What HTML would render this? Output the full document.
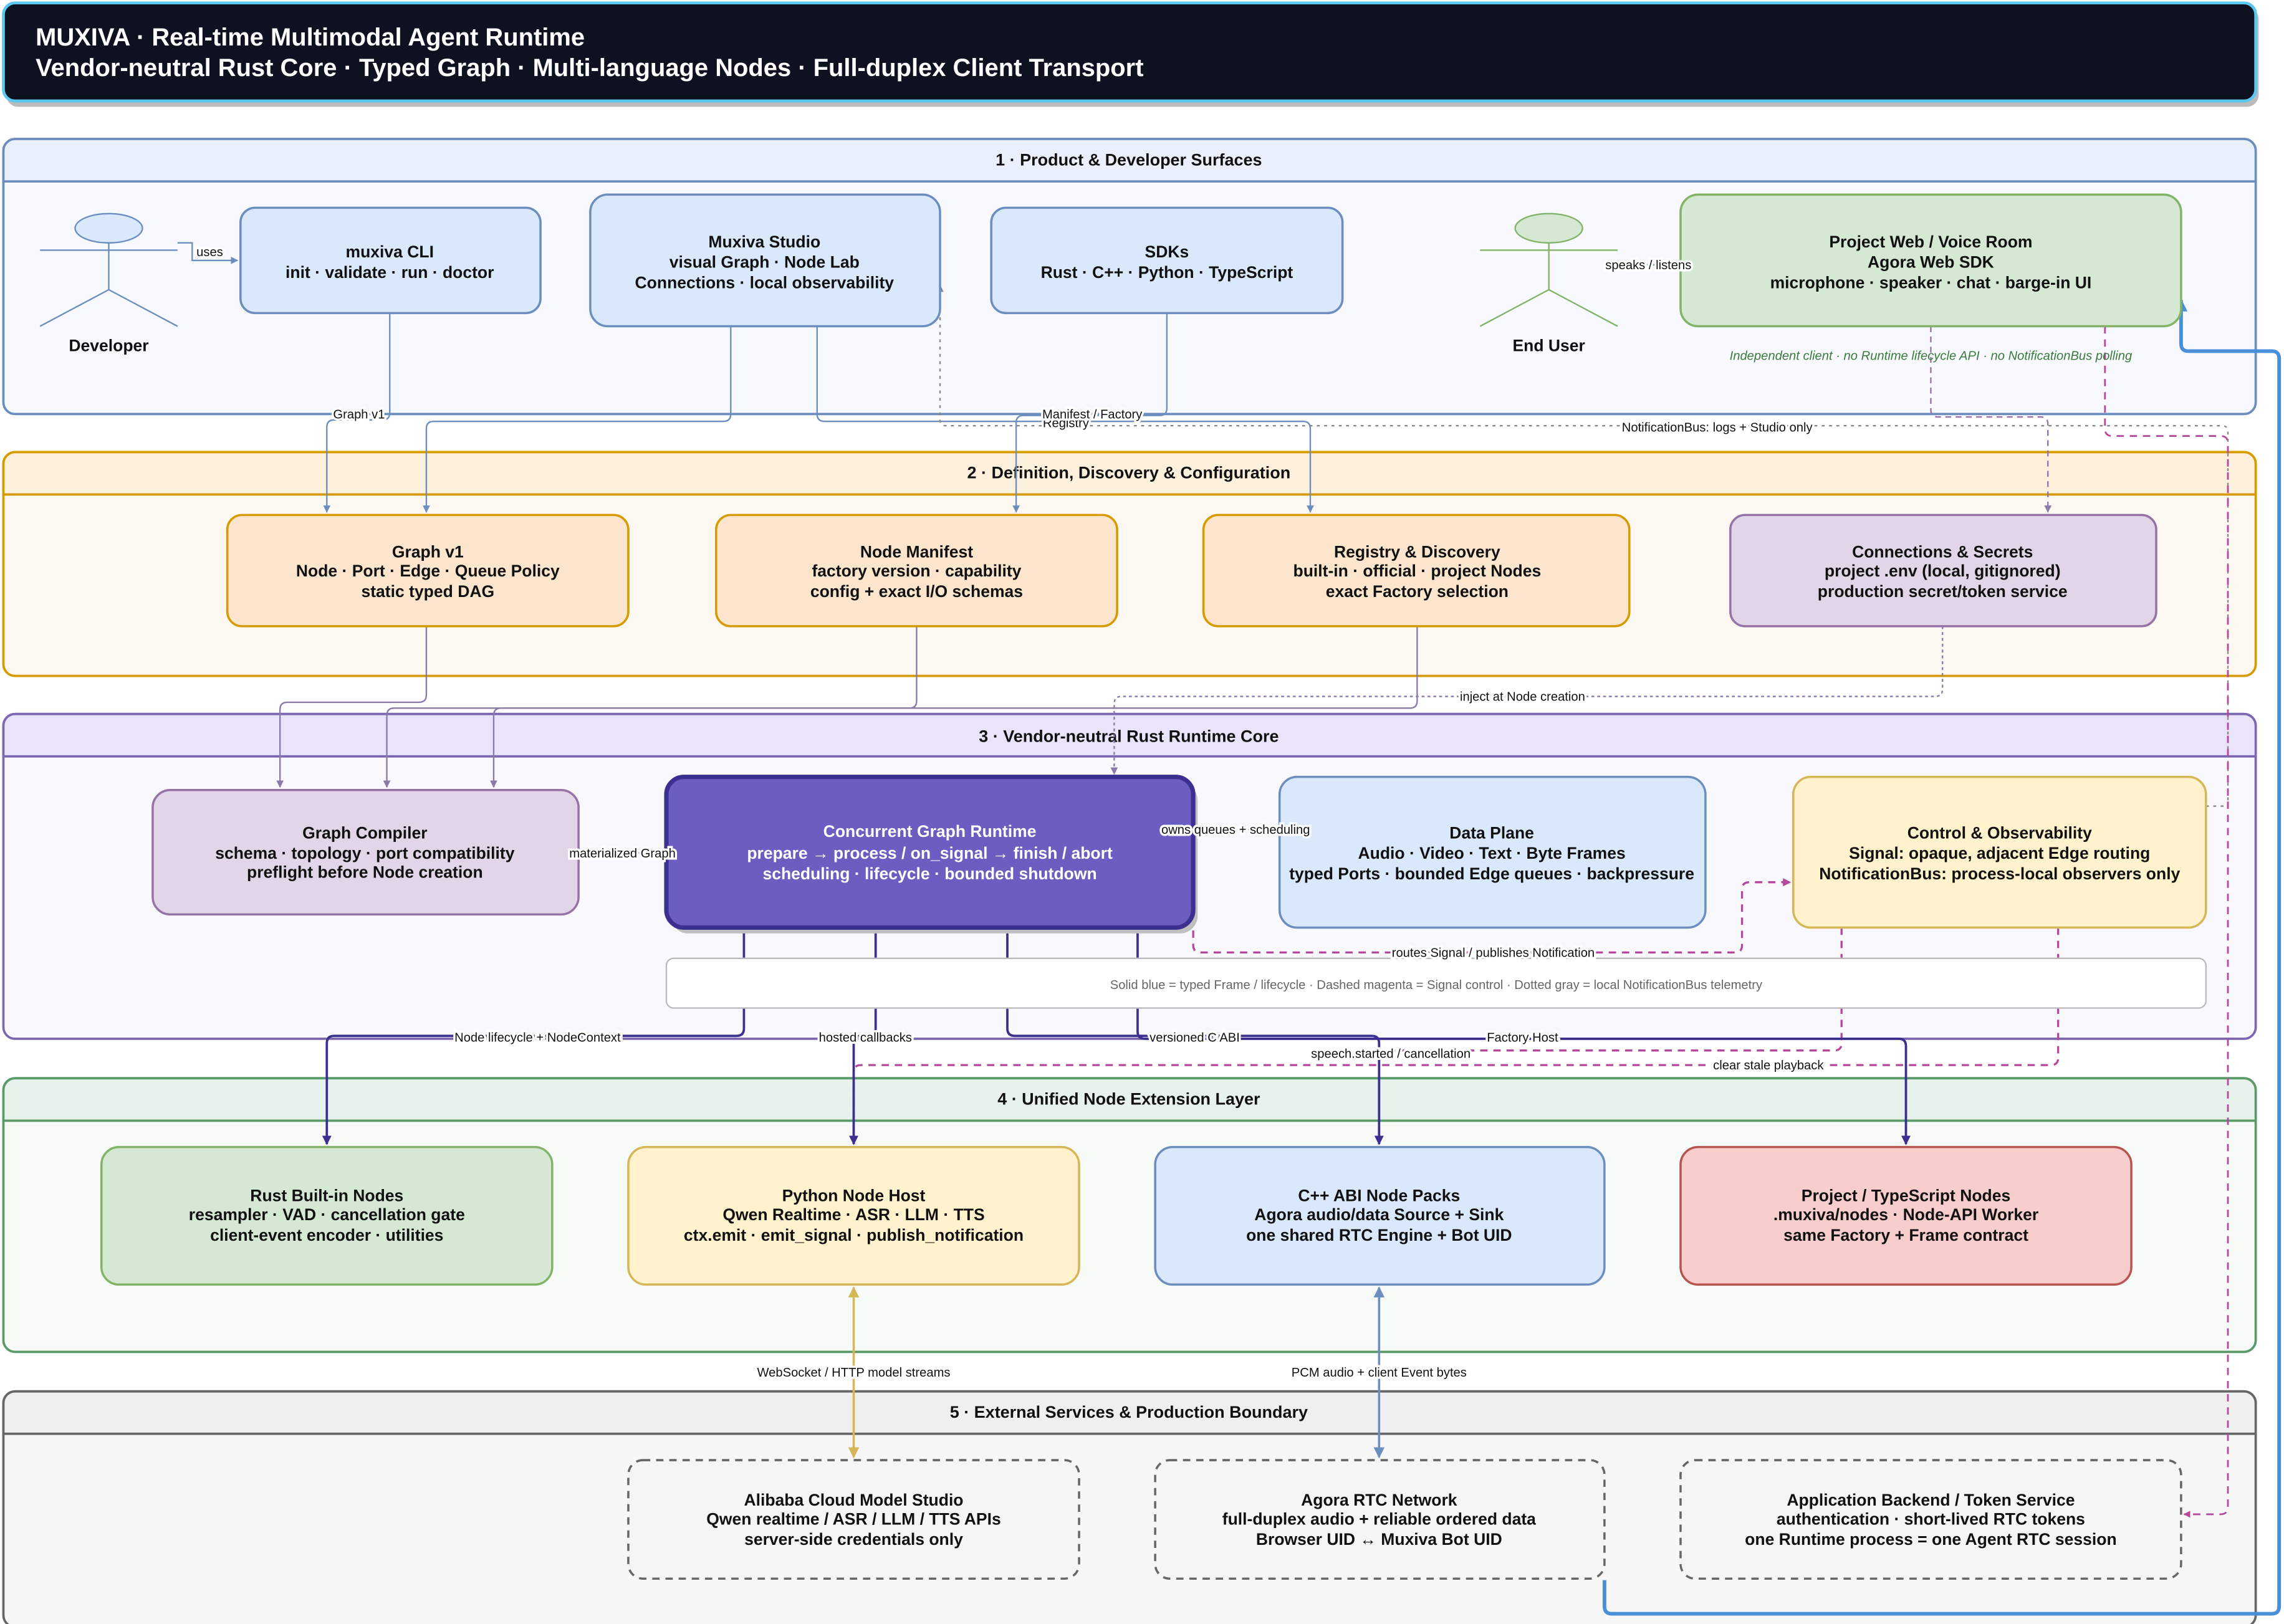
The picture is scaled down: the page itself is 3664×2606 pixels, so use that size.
<!DOCTYPE html>
<html><head><meta charset="utf-8"><style>
html,body{margin:0;padding:0;background:#fff;}
svg{display:block;}
text{font-family:"Liberation Sans",Arial,sans-serif;}
.n{font-size:11.3px;font-weight:bold;fill:#111;text-anchor:middle;}
.l{font-size:8.6px;fill:#111;text-anchor:middle;paint-order:stroke;stroke:#fff;stroke-width:3px;}
.h{font-size:11.5px;font-weight:bold;fill:#111;text-anchor:middle;}
</style></head><body>
<svg width="3664" height="2606" viewBox="0 0 1560 1110" xmlns="http://www.w3.org/2000/svg">
<defs>
<marker id="ab" viewBox="0 0 10 10" refX="9" refY="5" markerWidth="5" markerHeight="5" orient="auto-start-reverse"><path d="M0,0L10,5L0,10z" fill="#6c8ebf"/></marker>
<marker id="ap" viewBox="0 0 10 10" refX="9" refY="5" markerWidth="5" markerHeight="5" orient="auto-start-reverse"><path d="M0,0L10,5L0,10z" fill="#8a7aa8"/></marker>
<marker id="ad" viewBox="0 0 10 10" refX="9" refY="5" markerWidth="4" markerHeight="4" orient="auto-start-reverse"><path d="M0,0L10,5L0,10z" fill="#3b2f8f"/></marker>
<marker id="am" viewBox="0 0 10 10" refX="9" refY="5" markerWidth="4" markerHeight="4" orient="auto-start-reverse"><path d="M0,0L10,5L0,10z" fill="#b5479c"/></marker>
<marker id="ag" viewBox="0 0 10 10" refX="9" refY="5" markerWidth="5" markerHeight="5" orient="auto-start-reverse"><path d="M0,0L10,5L0,10z" fill="#d6b656"/></marker>
<marker id="ay" viewBox="0 0 10 10" refX="9" refY="5" markerWidth="5" markerHeight="5" orient="auto-start-reverse"><path d="M0,0L10,5L0,10z" fill="#888"/></marker>
<marker id="aB" viewBox="0 0 10 10" refX="9" refY="5" markerWidth="3.5" markerHeight="3.5" orient="auto-start-reverse"><path d="M0,0L10,5L0,10z" fill="#4a90d9"/></marker>
</defs>
<!-- title -->
<rect x="4" y="5" width="1539" height="68" rx="8" fill="#bbb"/>
<rect x="2" y="2" width="1539" height="67" rx="8" fill="#0d1120" stroke="#5bc8f0" stroke-width="2"/>
<text x="24" y="31" fill="#fff" font-size="17" font-weight="bold">MUXIVA · Real-time Multimodal Agent Runtime</text>
<text x="24" y="52" fill="#fff" font-size="17" font-weight="bold">Vendor-neutral Rust Core · Typed Graph · Multi-language Nodes · Full-duplex Client Transport</text>

<!-- lanes -->
<g stroke-width="1.6">
<rect x="2" y="95" width="1539" height="188" rx="8" fill="#f7f9fe" stroke="#6c8ebf"/>
<path d="M2,124V103a8,8 0 0 1 8,-8H1533a8,8 0 0 1 8,8V124z" fill="#eaf0fb" stroke="#6c8ebf"/>
<rect x="2" y="309" width="1539" height="153" rx="8" fill="#fdf9f2" stroke="#d79b00"/>
<path d="M2,338V317a8,8 0 0 1 8,-8H1533a8,8 0 0 1 8,8V338z" fill="#fdf0dc" stroke="#d79b00"/>
<rect x="2" y="488" width="1539" height="222" rx="8" fill="#f9f8fd" stroke="#7c68b0"/>
<path d="M2,517V496a8,8 0 0 1 8,-8H1533a8,8 0 0 1 8,8V517z" fill="#e9e4fa" stroke="#7c68b0"/>
<rect x="2" y="737" width="1539" height="187" rx="8" fill="#f7fbf8" stroke="#5a9a68"/>
<path d="M2,766V745a8,8 0 0 1 8,-8H1533a8,8 0 0 1 8,8V766z" fill="#e8f2ec" stroke="#5a9a68"/>
<rect x="2" y="951" width="1539" height="161" rx="8" fill="#f7f7f7" stroke="#666"/>
<path d="M2,980V959a8,8 0 0 1 8,-8H1533a8,8 0 0 1 8,8V980z" fill="#efefef" stroke="#666"/>
</g>
<text class="h" x="771" y="113">1 · Product &amp; Developer Surfaces</text>
<text class="h" x="771" y="327">2 · Definition, Discovery &amp; Configuration</text>
<text class="h" x="771" y="507">3 · Vendor-neutral Rust Runtime Core</text>
<text class="h" x="771" y="755">4 · Unified Node Extension Layer</text>
<text class="h" x="771" y="969">5 · External Services &amp; Production Boundary</text>

<!-- connectors (behind nodes) -->
<g fill="none" stroke="#6c8ebf" stroke-width="1">
<path d="M121,166h10v12h31" marker-end="url(#ab)"/>
<path d="M266,214V282q0,5 -5,5H228q-5,0 -5,5V350" marker-end="url(#ab)"/>
<path d="M499,223V283q0,5 -5,5H296q-5,0 -5,5V350" marker-end="url(#ab)"/>
<path d="M558,223V283q0,5 5,5H890q5,0 5,5V350" marker-end="url(#ab)"/>
<path d="M797,214V279q0,5 -5,5H699q-5,0 -5,5V350" marker-end="url(#ab)"/>
<path d="M1100,181h46" marker-end="url(#ab)"/>
</g>
<g fill="none" stroke="#888" stroke-width="1" stroke-dasharray="2,3">
<path d="M1522,552V295q0,-4 -4,-4H646q-4,0 -4,-4V195" marker-end="url(#ay)"/>
<path d="M1507,551h15"/>
</g>
<path d="M1319,223V280q0,5 5,5H1394q5,0 5,5V350" fill="none" stroke="#9673a6" stroke-width="1" stroke-dasharray="4,3" marker-end="url(#ap)"/>
<path d="M1438,223V293q0,5 5,5H1517q5,0 5,5V1030q0,5 -5,5H1492" fill="none" stroke="#b5479c" stroke-width="1.2" stroke-dasharray="5,4" marker-end="url(#am)"/>
<path d="M1096,1080V1098q0,5 5,5H1552q5,0 5,-5V245q0,-5 -5,-5H1495q-5,0 -5,-5V205" fill="none" stroke="#4a90d9" stroke-width="2.5" marker-end="url(#aB)"/>
<g fill="none" stroke="#8a7aa8" stroke-width="1">
<path d="M291,428V475q0,5 -5,5H196q-5,0 -5,5V538" marker-end="url(#ap)"/>
<path d="M626,428V479q0,5 -5,5H269q-5,0 -5,5V538" marker-end="url(#ap)"/>
<path d="M968,428V479q0,5 -5,5H342q-5,0 -5,5V538" marker-end="url(#ap)"/>
<path d="M1327,428V471q0,5 -5,5H766q-5,0 -5,5V529" stroke-dasharray="2,2" marker-end="url(#ap)"/>
<path d="M395,583H453" stroke="#6c8ebf" marker-end="url(#ab)"/>
<path d="M815,567H872" stroke="#6c8ebf" marker-end="url(#ab)"/>
</g>
<g fill="none" stroke="#b5479c" stroke-width="1.4" stroke-dasharray="5,4">
<path d="M815,600V646q0,5 5,5H1185q5,0 5,-5V608q0,-5 5,-5H1223" marker-end="url(#am)"/>
<path d="M1258,634V713q0,5 -5,5H947q-5,0 -5,5V782" marker-end="url(#am)"/>
<path d="M1406,634V723q0,5 -5,5H588q-5,0 -5,5V782" marker-end="url(#am)"/>
</g>
<g fill="none" stroke="#3b2f8f" stroke-width="1.6">
<path d="M508,634V703q0,5 -5,5H228q-5,0 -5,5V782" marker-end="url(#ad)"/>
<path d="M598,634V703q0,5 -5,5H588q-5,0 -5,5V782" marker-end="url(#ad)"/>
<path d="M688,634V703q0,5 5,5H937q5,0 5,5V782" marker-end="url(#ad)"/>
<path d="M777,634V705q0,5 5,5H1297q5,0 5,5V782" marker-end="url(#ad)"/>
</g>
<path d="M583,880V996" fill="none" stroke="#d6b656" stroke-width="1.5" marker-start="url(#ag)" marker-end="url(#ag)"/>
<path d="M942,880V996" fill="none" stroke="#6c8ebf" stroke-width="1.5" marker-start="url(#ab)" marker-end="url(#ab)"/>

<!-- actors -->
<g fill="none" stroke="#6c8ebf" stroke-width="1">
<ellipse cx="74" cy="156" rx="23" ry="10" fill="#dae8fc"/>
<path d="M74,166V198M27,171H121M74,198L27,223M74,198L121,223"/>
</g>
<text class="n" x="74" y="240">Developer</text>
<g fill="none" stroke="#82b366" stroke-width="1">
<ellipse cx="1058" cy="156" rx="23" ry="10" fill="#d5e8d4"/>
<path d="M1058,166V198M1011,171H1105M1058,198L1011,223M1058,198L1105,223"/>
</g>
<text class="n" x="1058" y="240">End User</text>

<!-- nodes -->
<g stroke-width="1.5">
<rect x="164" y="142" width="205" height="72" rx="10" fill="#dae8fc" stroke="#6c8ebf"/>
<rect x="403" y="133" width="239" height="90" rx="12" fill="#dae8fc" stroke="#6c8ebf"/>
<rect x="677" y="142" width="240" height="72" rx="10" fill="#dae8fc" stroke="#6c8ebf"/>
<rect x="1148" y="133" width="342" height="90" rx="12" fill="#d5e8d4" stroke="#82b366"/>
<rect x="155" y="352" width="274" height="76" rx="10" fill="#fce5cd" stroke="#d79b00"/>
<rect x="489" y="352" width="274" height="76" rx="10" fill="#fce5cd" stroke="#d79b00"/>
<rect x="822" y="352" width="291" height="76" rx="10" fill="#fce5cd" stroke="#d79b00"/>
<rect x="1182" y="352" width="291" height="76" rx="10" fill="#e1d5e7" stroke="#9673a6"/>
<rect x="104" y="540" width="291" height="85" rx="12" fill="#e1d5e7" stroke="#9673a6"/>
<rect x="458" y="535" width="360" height="103" rx="12" fill="#c0c0c0" stroke="none"/>
<rect x="455" y="531" width="360" height="103" rx="12" fill="#6a5fc1" stroke="#3b2f8f" stroke-width="3"/>
<rect x="874" y="531" width="291" height="103" rx="12" fill="#dae8fc" stroke="#6c8ebf"/>
<rect x="1225" y="531" width="282" height="103" rx="12" fill="#fff2cc" stroke="#d6b656"/>
<rect x="455" y="655" width="1052" height="34" rx="5" fill="#fff" stroke="#bbb" stroke-width="1"/>
<rect x="69" y="784" width="308" height="94" rx="12" fill="#d5e8d4" stroke="#82b366"/>
<rect x="429" y="784" width="308" height="94" rx="12" fill="#fff2cc" stroke="#d6b656"/>
<rect x="789" y="784" width="307" height="94" rx="12" fill="#dae8fc" stroke="#6c8ebf"/>
<rect x="1148" y="784" width="308" height="94" rx="12" fill="#f8cecc" stroke="#b85450"/>
<g stroke-dasharray="5,4" fill="#f5f5f5" stroke="#666">
<rect x="429" y="998" width="308" height="81" rx="10"/>
<rect x="789" y="998" width="307" height="81" rx="10"/>
<rect x="1148" y="998" width="342" height="81" rx="10"/>
</g>
</g>

<g class="n">
<text class="n" x="266" y="176">muxiva CLI</text><text class="n" x="266" y="190">init · validate · run · doctor</text>
<text class="n" x="522" y="169">Muxiva Studio</text><text class="n" x="522" y="183">visual Graph · Node Lab</text><text class="n" x="522" y="197">Connections · local observability</text>
<text class="n" x="797" y="176">SDKs</text><text class="n" x="797" y="190">Rust · C++ · Python · TypeScript</text>
<text class="n" x="1319" y="169">Project Web / Voice Room</text><text class="n" x="1319" y="183">Agora Web SDK</text><text class="n" x="1319" y="197">microphone · speaker · chat · barge-in UI</text>
<text class="n" x="292" y="381">Graph v1</text><text class="n" x="292" y="394">Node · Port · Edge · Queue Policy</text><text class="n" x="292" y="408">static typed DAG</text>
<text class="n" x="626" y="381">Node Manifest</text><text class="n" x="626" y="394">factory version · capability</text><text class="n" x="626" y="408">config + exact I/O schemas</text>
<text class="n" x="968" y="381">Registry &amp; Discovery</text><text class="n" x="968" y="394">built-in · official · project Nodes</text><text class="n" x="968" y="408">exact Factory selection</text>
<text class="n" x="1327" y="381">Connections &amp; Secrets</text><text class="n" x="1327" y="394">project .env (local, gitignored)</text><text class="n" x="1327" y="408">production secret/token service</text>
<text class="n" x="249" y="573">Graph Compiler</text><text class="n" x="249" y="587">schema · topology · port compatibility</text><text class="n" x="249" y="600">preflight before Node creation</text>
<text class="n" x="635" y="572" fill="#fff" style="fill:#fff">Concurrent Graph Runtime</text><text class="n" x="635" y="587" style="fill:#fff">prepare → process / on_signal → finish / abort</text><text class="n" x="635" y="601" style="fill:#fff">scheduling · lifecycle · bounded shutdown</text>
<text class="n" x="1019" y="573">Data Plane</text><text class="n" x="1019" y="587">Audio · Video · Text · Byte Frames</text><text class="n" x="1019" y="601">typed Ports · bounded Edge queues · backpressure</text>
<text class="n" x="1366" y="573">Control &amp; Observability</text><text class="n" x="1366" y="587">Signal: opaque, adjacent Edge routing</text><text class="n" x="1366" y="601">NotificationBus: process-local observers only</text>
<text class="n" x="223" y="821">Rust Built-in Nodes</text><text class="n" x="223" y="834">resampler · VAD · cancellation gate</text><text class="n" x="223" y="848">client-event encoder · utilities</text>
<text class="n" x="583" y="821">Python Node Host</text><text class="n" x="583" y="834">Qwen Realtime · ASR · LLM · TTS</text><text class="n" x="583" y="848">ctx.emit · emit_signal · publish_notification</text>
<text class="n" x="942" y="821">C++ ABI Node Packs</text><text class="n" x="942" y="834">Agora audio/data Source + Sink</text><text class="n" x="942" y="848">one shared RTC Engine + Bot UID</text>
<text class="n" x="1302" y="821">Project / TypeScript Nodes</text><text class="n" x="1302" y="834">.muxiva/nodes · Node-API Worker</text><text class="n" x="1302" y="848">same Factory + Frame contract</text>
<text class="n" x="583" y="1029">Alibaba Cloud Model Studio</text><text class="n" x="583" y="1042">Qwen realtime / ASR / LLM / TTS APIs</text><text class="n" x="583" y="1056">server-side credentials only</text>
<text class="n" x="942" y="1029">Agora RTC Network</text><text class="n" x="942" y="1042">full-duplex audio + reliable ordered data</text><text class="n" x="942" y="1056">Browser UID ↔ Muxiva Bot UID</text>
<text class="n" x="1319" y="1029">Application Backend / Token Service</text><text class="n" x="1319" y="1042">authentication · short-lived RTC tokens</text><text class="n" x="1319" y="1056">one Runtime process = one Agent RTC session</text>
</g>

<text x="981" y="676" font-size="8.6" fill="#666" text-anchor="middle">Solid blue = typed Frame / lifecycle · Dashed magenta = Signal control · Dotted gray = local NotificationBus telemetry</text>
<text x="1319" y="246" font-size="8.6" fill="#3a7a3a" font-style="italic" text-anchor="middle">Independent client · no Runtime lifecycle API · no NotificationBus polling</text>

<!-- labels -->
<text class="l" x="143" y="175">uses</text>
<text class="l" x="1126" y="184">speaks / listens</text>
<text class="l" x="245" y="286">Graph v1</text>
<text class="l" x="728" y="292">Registry</text>
<text class="l" x="746" y="286">Manifest / Factory</text>
<text class="l" x="1173" y="295">NotificationBus: logs + Studio only</text>
<text class="l" x="1040" y="479">inject at Node creation</text>
<text class="l" x="425" y="586">materialized Graph</text>
<text class="l" x="844" y="570">owns queues + scheduling</text>
<text class="l" x="1020" y="654">routes Signal / publishes Notification</text>
<text class="l" x="367" y="712">Node lifecycle + NodeContext</text>
<text class="l" x="591" y="712">hosted callbacks</text>
<text class="l" x="816" y="712">versioned C ABI</text>
<text class="l" x="1040" y="712">Factory Host</text>
<text class="l" x="950" y="723">speech.started / cancellation</text>
<text class="l" x="1208" y="731">clear stale playback</text>
<text class="l" x="583" y="941">WebSocket / HTTP model streams</text>
<text class="l" x="942" y="941">PCM audio + client Event bytes</text>
</svg>
</body></html>
